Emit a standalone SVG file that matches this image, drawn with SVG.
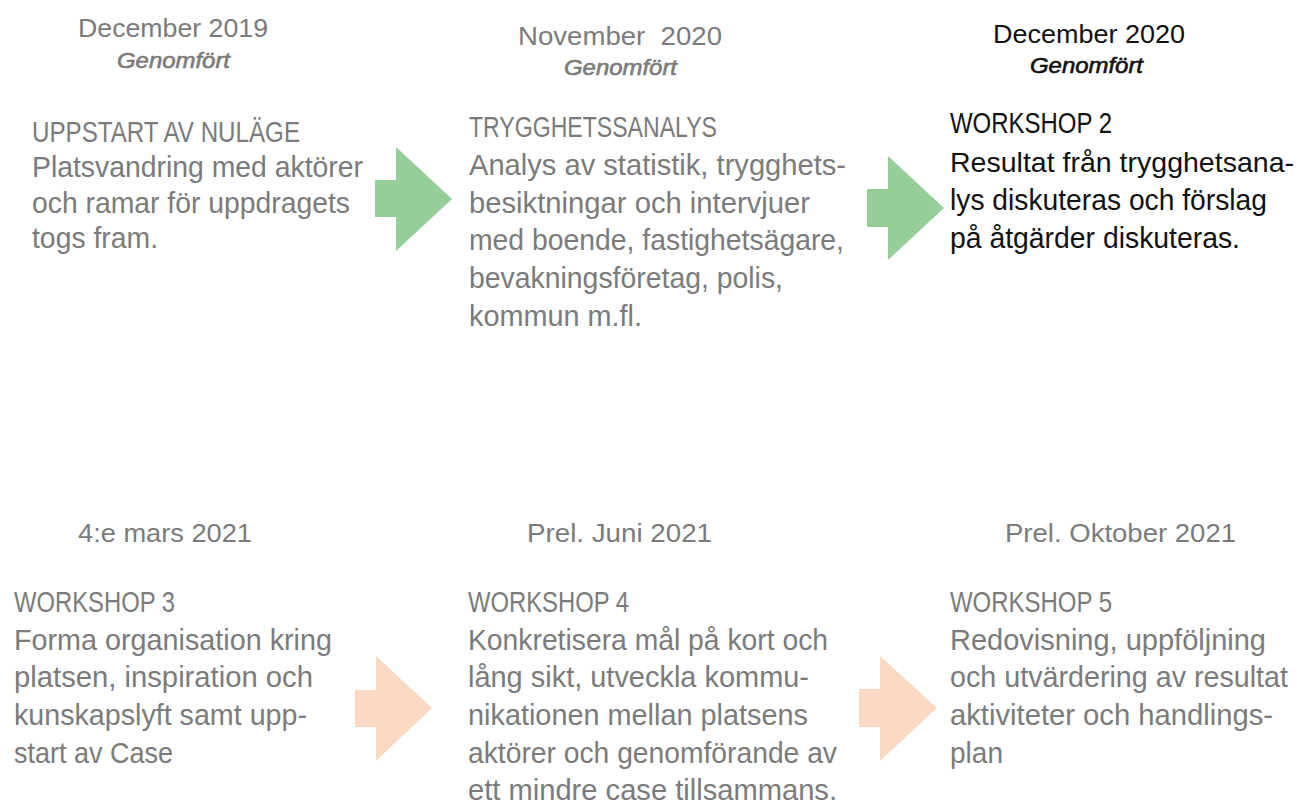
<svg xmlns="http://www.w3.org/2000/svg" width="1303" height="804" viewBox="0 0 1303 804">
<style>
text{font-family:"Liberation Sans",Arial,sans-serif;fill:#7b7b7b;}
.date{font-size:26px;}
.done{font-size:22px;font-style:italic;stroke:#7b7b7b;stroke-width:0.6px;}
.body{font-size:30px;}
.dark{fill:#111111;}
.done.dark{stroke:#111111;}
.green{fill:#95ce98;}
.peach{fill:#fbd9c3;}
</style>
<rect width="1303" height="804" fill="#ffffff"/>
<g id="connectors">
<polygon class="green" points="375,180 396,180 396,147 452,199 396,251 396,217 375,217"/>
<polygon class="green" points="867,189 888,189 888,156 944,208 888,260 888,227 867,227"/>
<polygon class="peach" points="355,690 376,690 376,656 432,708 376,761 376,727 355,727"/>
<polygon class="peach" points="859,689 880,689 880,656 937,708 880,761 880,727 859,727"/>
</g>
<g id="node1">
<text class="date" x="78" y="37" textLength="190" lengthAdjust="spacingAndGlyphs">December 2019</text>
<text class="done" x="117" y="68" textLength="113" lengthAdjust="spacingAndGlyphs">Genomfört</text>
<text class="body" x="32" y="142" textLength="268" lengthAdjust="spacingAndGlyphs">UPPSTART AV NULÄGE</text>
<text class="body" x="32" y="177" textLength="331" lengthAdjust="spacingAndGlyphs">Platsvandring med aktörer</text>
<text class="body" x="32" y="213" textLength="318" lengthAdjust="spacingAndGlyphs">och ramar för uppdragets</text>
<text class="body" x="32" y="248" textLength="126" lengthAdjust="spacingAndGlyphs">togs fram.</text>
</g>
<g id="node2">
<text class="date" x="518" y="45" textLength="204" lengthAdjust="spacingAndGlyphs" xml:space="preserve">November  2020</text>
<text class="done" x="564" y="75" textLength="113" lengthAdjust="spacingAndGlyphs">Genomfört</text>
<text class="body" x="469" y="137" textLength="248" lengthAdjust="spacingAndGlyphs">TRYGGHETSSANALYS</text>
<text class="body" x="469" y="175" textLength="377" lengthAdjust="spacingAndGlyphs">Analys av statistik, trygghets-</text>
<text class="body" x="469" y="213" textLength="341" lengthAdjust="spacingAndGlyphs">besiktningar och intervjuer</text>
<text class="body" x="469" y="250" textLength="375" lengthAdjust="spacingAndGlyphs">med boende, fastighetsägare,</text>
<text class="body" x="469" y="288" textLength="314" lengthAdjust="spacingAndGlyphs">bevakningsföretag, polis,</text>
<text class="body" x="469" y="326" textLength="173" lengthAdjust="spacingAndGlyphs">kommun m.fl.</text>
</g>
<g id="node3">
<text class="date dark" x="993" y="43" textLength="192" lengthAdjust="spacingAndGlyphs">December 2020</text>
<text class="done dark" x="1030" y="73" textLength="113" lengthAdjust="spacingAndGlyphs">Genomfört</text>
<text class="body dark" x="950" y="133" textLength="162" lengthAdjust="spacingAndGlyphs">WORKSHOP 2</text>
<text class="body dark" x="950" y="172" style="font-size:28.5px" textLength="344" lengthAdjust="spacingAndGlyphs">Resultat från trygghetsana-</text>
<text class="body dark" x="950" y="210" textLength="317" lengthAdjust="spacingAndGlyphs">lys diskuteras och förslag</text>
<text class="body dark" x="950" y="248" textLength="290" lengthAdjust="spacingAndGlyphs">på åtgärder diskuteras.</text>
</g>
<g id="node4">
<text class="date" x="78" y="542" textLength="174" lengthAdjust="spacingAndGlyphs">4:e mars 2021</text>
<text class="body" x="14" y="612" textLength="161" lengthAdjust="spacingAndGlyphs">WORKSHOP 3</text>
<text class="body" x="14" y="650" textLength="318" lengthAdjust="spacingAndGlyphs">Forma organisation kring</text>
<text class="body" x="14" y="687" textLength="299" lengthAdjust="spacingAndGlyphs">platsen, inspiration och</text>
<text class="body" x="14" y="725" textLength="293" lengthAdjust="spacingAndGlyphs">kunskapslyft samt upp-</text>
<text class="body" x="14" y="763" textLength="159" lengthAdjust="spacingAndGlyphs">start av Case</text>
</g>
<g id="node5">
<text class="date" x="527" y="542" textLength="185" lengthAdjust="spacingAndGlyphs">Prel. Juni 2021</text>
<text class="body" x="468" y="612" textLength="161" lengthAdjust="spacingAndGlyphs">WORKSHOP 4</text>
<text class="body" x="468" y="650" textLength="360" lengthAdjust="spacingAndGlyphs">Konkretisera mål på kort och</text>
<text class="body" x="468" y="687" textLength="341" lengthAdjust="spacingAndGlyphs">lång sikt, utveckla kommu-</text>
<text class="body" x="468" y="725" textLength="340" lengthAdjust="spacingAndGlyphs">nikationen mellan platsens</text>
<text class="body" x="468" y="763" textLength="369" lengthAdjust="spacingAndGlyphs">aktörer och genomförande av</text>
<text class="body" x="468" y="800" textLength="369" lengthAdjust="spacingAndGlyphs">ett mindre case tillsammans.</text>
</g>
<g id="node6">
<text class="date" x="1005" y="542" textLength="231" lengthAdjust="spacingAndGlyphs">Prel. Oktober 2021</text>
<text class="body" x="950" y="612" textLength="162" lengthAdjust="spacingAndGlyphs">WORKSHOP 5</text>
<text class="body" x="950" y="650" textLength="316" lengthAdjust="spacingAndGlyphs">Redovisning, uppföljning</text>
<text class="body" x="950" y="687" textLength="338" lengthAdjust="spacingAndGlyphs">och utvärdering av resultat</text>
<text class="body" x="950" y="725" textLength="323" lengthAdjust="spacingAndGlyphs">aktiviteter och handlings-</text>
<text class="body" x="950" y="763" textLength="53" lengthAdjust="spacingAndGlyphs">plan</text>
</g>
</svg>
